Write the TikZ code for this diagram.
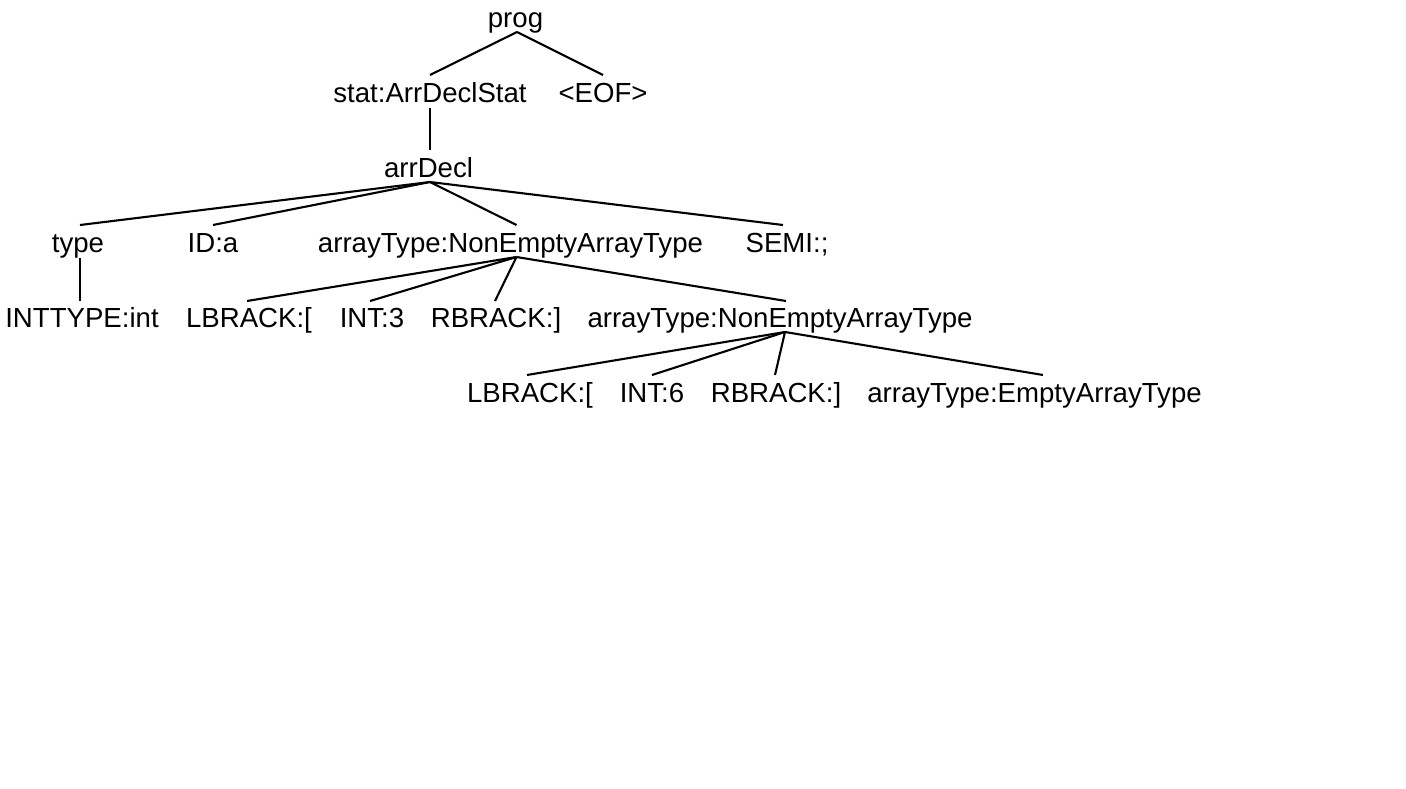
\documentclass[tikz,border=0pt]{standalone}
\usepackage{fontspec}
\setmainfont{Liberation Sans}
\begin{document}
\begin{tikzpicture}[x=1pt,y=-1pt,
  lbl/.style={anchor=base,inner sep=0pt,font=\fontsize{27.6}{32}\selectfont},
  edge/.style={line width=2.1pt}]
\useasboundingbox[fill=white] (0,0) rectangle (1406,788);
% level 1
\node[lbl] (prog) at (515.5,27) {prog};
% level 2
\node[lbl] (stat) at (430,102) {stat:ArrDeclStat};
\node[lbl] (eof) at (603,102) {<EOF>};
% level 3
\node[lbl] (arr) at (428.5,177) {arrDecl};
% level 4
\node[lbl] (type) at (78,252) {type};
\node[lbl] (id) at (213,252) {ID:a};
\node[lbl] (at1) at (510.5,252) {arrayType:NonEmptyArrayType};
\node[lbl] (semi) at (787,252) {SEMI:;};
% level 5
\node[lbl] (intt) at (82,327) {INTTYPE:int};
\node[lbl] (lb1) at (249,327) {LBRACK:[};
\node[lbl] (int3) at (372,327) {INT:3};
\node[lbl] (rb1) at (496,327) {RBRACK:]};
\node[lbl] (at2) at (780,327) {arrayType:NonEmptyArrayType};
% level 6
\node[lbl] (lb2) at (530,402) {LBRACK:[};
\node[lbl] (int6) at (652,402) {INT:6};
\node[lbl] (rb2) at (776,402) {RBRACK:]};
\node[lbl] (at3) at (1034.5,402) {arrayType:EmptyArrayType};
% edges
\draw[edge] ([xshift=1.5pt,yshift=-5pt]prog.base) -- ([yshift=27pt]stat.base);
\draw[edge] ([xshift=1.5pt,yshift=-5pt]prog.base) -- ([yshift=27pt]eof.base);
\draw[edge] ([yshift=-6pt]stat.base) -- ([xshift=1.5pt,yshift=27pt]arr.base);
\draw[edge] ([xshift=1.5pt,yshift=-5pt]arr.base) -- ([xshift=2pt,yshift=27pt]type.base);
\draw[edge] ([xshift=1.5pt,yshift=-5pt]arr.base) -- ([yshift=27pt]id.base);
\draw[edge] ([xshift=1.5pt,yshift=-5pt]arr.base) -- ([xshift=6pt,yshift=27pt]at1.base);
\draw[edge] ([xshift=1.5pt,yshift=-5pt]arr.base) -- ([xshift=-4pt,yshift=27pt]semi.base);
\draw[edge] ([xshift=2pt,yshift=-6pt]type.base) -- ([xshift=-2pt,yshift=26pt]intt.base);
\draw[edge] ([xshift=6pt,yshift=-5pt]at1.base) -- ([xshift=-2pt,yshift=26pt]lb1.base);
\draw[edge] ([xshift=6pt,yshift=-5pt]at1.base) -- ([xshift=-2pt,yshift=26pt]int3.base);
\draw[edge] ([xshift=6pt,yshift=-5pt]at1.base) -- ([xshift=-1pt,yshift=26pt]rb1.base);
\draw[edge] ([xshift=6pt,yshift=-5pt]at1.base) -- ([xshift=6pt,yshift=26pt]at2.base);
\draw[edge] ([xshift=5pt,yshift=-5pt]at2.base) -- ([xshift=-3pt,yshift=27pt]lb2.base);
\draw[edge] ([xshift=5pt,yshift=-5pt]at2.base) -- ([yshift=27pt]int6.base);
\draw[edge] ([xshift=5pt,yshift=-5pt]at2.base) -- ([xshift=-1pt,yshift=27pt]rb2.base);
\draw[edge] ([xshift=5pt,yshift=-5pt]at2.base) -- ([xshift=8.5pt,yshift=27pt]at3.base);
\end{tikzpicture}
\end{document}
